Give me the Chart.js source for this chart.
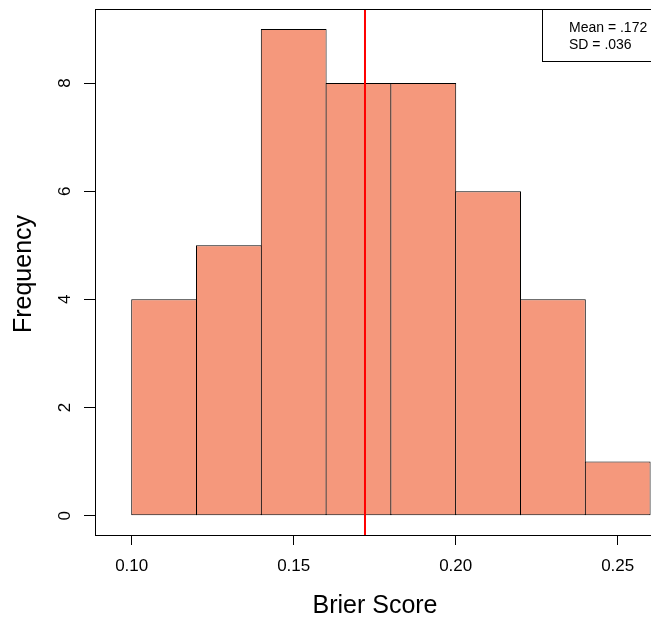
<!DOCTYPE html>
<html>
<head>
<meta charset="utf-8">
<script src="https://cdn.jsdelivr.net/npm/chart.js@4/dist/chart.umd.min.js"></script>
<style>
  html, body { margin: 0; padding: 0; background: #fff; overflow: hidden; }
  canvas { display: block; }
</style>
</head>
<body>
<canvas id="c" width="660" height="617"></canvas>
<script>
// ---- data ----
const binEdges = [0.10, 0.12, 0.14, 0.16, 0.18, 0.20, 0.22, 0.24, 0.26];
const counts = [4, 5, 9, 8, 8, 6, 4, 1];
const xTickValues = [0.10, 0.15, 0.20, 0.25];
const yTickValues = [0, 2, 4, 6, 8];
const meanValue = 0.172;
const legendLines = ["Mean = .172", "SD = .036"];
const xTitle = "Brier Score";
const yTitle = "Frequency";

// axis ranges
const xMin = 0.08867, xMax = 0.26151;
const yMin = -0.357, yMax = 9.369;

const FONT = '"Liberation Sans", Arial, Helvetica, sans-serif';
Chart.defaults.font.family = FONT;
Chart.defaults.color = '#000';

const barData = counts.map((c, i) => ({ x: (binEdges[i] + binEdges[i + 1]) / 2, y: c }));

const decorPlugin = {
  id: 'decor',
  afterDraw(chart) {
    const ctx = chart.ctx;
    const a = chart.chartArea;
    const ys = chart.scales.y;
    ctx.save();
    // frame
    ctx.strokeStyle = '#000';
    ctx.lineWidth = 1;
    ctx.strokeRect(a.left + 0.5, a.top + 0.5, a.right - a.left, a.bottom - a.top);
    // y tick labels (rotated, R style)
    ctx.fillStyle = '#000';
    ctx.font = '17px ' + FONT;
    ctx.textAlign = 'center';
    ctx.textBaseline = 'alphabetic';
    yTickValues.forEach(v => {
      const py = ys.getPixelForValue(v);
      ctx.save();
      ctx.translate(a.left - 25, py);
      ctx.rotate(-Math.PI / 2);
      ctx.fillText(String(v), 0, 0);
      ctx.restore();
    });
    // axis titles
    ctx.font = '25px ' + FONT;
    ctx.textAlign = 'center';
    ctx.fillText(xTitle, (a.left + a.right) / 2, 613);
    ctx.save();
    ctx.translate(31, (a.top + a.bottom) / 2 + 2);
    ctx.rotate(-Math.PI / 2);
    ctx.fillText(yTitle, 0, 0);
    ctx.restore();
    // legend box
    const bx = 542.5, by = a.top + 0.5, bw = a.right - 542, bh = 52;
    ctx.fillStyle = '#fff';
    ctx.fillRect(bx, by, bw, bh);
    ctx.strokeStyle = '#000';
    ctx.strokeRect(bx, by, bw, bh);
    ctx.fillStyle = '#000';
    ctx.font = '14px ' + FONT;
    ctx.textAlign = 'left';
    ctx.fillText(legendLines[0], 569, 32);
    ctx.fillText(legendLines[1], 569, 48.5);
    ctx.restore();
  }
};

new Chart(document.getElementById('c'), {
  data: {
    datasets: [
      {
        type: 'line',
        label: 'Mean',
        data: [{ x: meanValue, y: yMin }, { x: meanValue, y: yMax }],
        borderColor: '#ff0000',
        borderWidth: 2,
        pointRadius: 0,
        order: 0
      },
      {
        type: 'bar',
        label: 'Frequency',
        data: barData,
        backgroundColor: 'rgb(245,152,124)',
        borderColor: '#000',
        borderWidth: 1,
        borderSkipped: false,
        inflateAmount: 0,
        barPercentage: 1.0154,
        categoryPercentage: 1.0,
        order: 1
      }
    ]
  },
  options: {
    responsive: false,
    animation: false,
    events: [],
    layout: { padding: { left: 0, top: 9, right: 5, bottom: 0 } },
    plugins: { legend: { display: false }, tooltip: { enabled: false } },
    scales: {
      x: {
        type: 'linear',
        position: 'bottom',
        min: xMin,
        max: xMax,
        offset: false,
        afterBuildTicks: (s) => { s.ticks = xTickValues.map(v => ({ value: v })); },
        afterFit: (s) => { s.height = 82; },
        ticks: {
          callback: (v) => Number(v).toFixed(2),
          font: { size: 17 },
          color: '#000',
          padding: 11,
          maxRotation: 0,
          autoSkip: false
        },
        grid: { offset: false, drawOnChartArea: false, drawTicks: true, tickLength: 10, color: '#000', lineWidth: 1 },
        border: { display: false }
      },
      y: {
        type: 'linear',
        position: 'left',
        min: yMin,
        max: yMax,
        afterBuildTicks: (s) => { s.ticks = yTickValues.map(v => ({ value: v })); },
        afterFit: (s) => { s.width = 95; },
        ticks: { display: false },
        grid: { offset: false, drawOnChartArea: false, drawTicks: true, tickLength: 11, color: '#000', lineWidth: 1 },
        border: { display: false }
      }
    }
  },
  plugins: [decorPlugin]
});
</script>
</body>
</html>
